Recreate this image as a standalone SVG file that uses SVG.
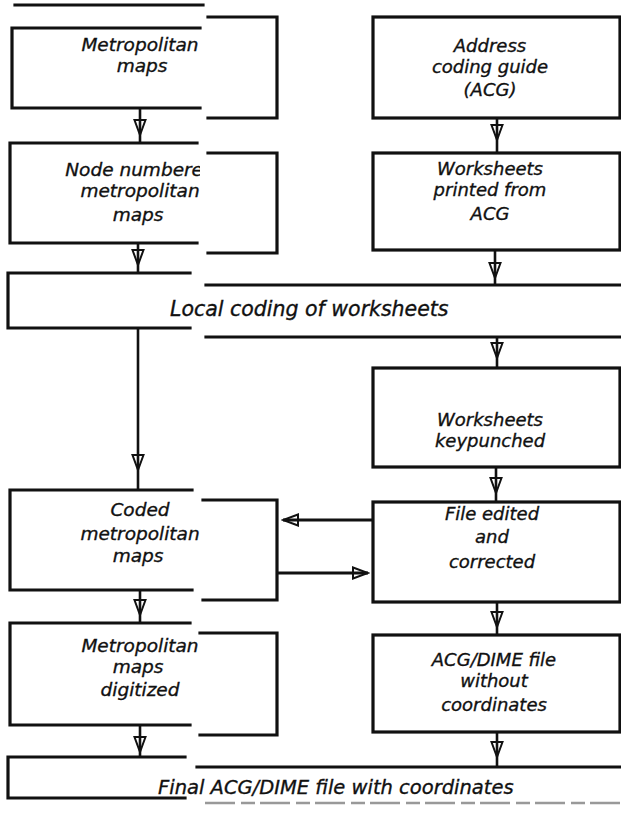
<svg xmlns="http://www.w3.org/2000/svg" width="621" height="816" viewBox="0 0 621 816">
  <style>
    .box { fill: none; stroke: #111; stroke-width: 3.2; stroke-linecap: square; }
    .faint { fill: none; stroke: #999; stroke-width: 2.5; stroke-dasharray: 30 6 14 5; }
    .lbl { font-family: "DejaVu Sans", "Liberation Sans", sans-serif; font-style: italic; font-size: 18px; fill: #111; stroke: #111; stroke-width: 0.35; text-anchor: middle; }
    .lft { font-size: 18.5px; }
    .band { font-family: "DejaVu Sans", "Liberation Sans", sans-serif; font-style: italic; font-size: 20.5px; fill: #111; stroke: #111; stroke-width: 0.35; }
    .flow { fill: none; stroke: #111; stroke-width: 2.6; marker-mid: url(#head); }
    .side { fill: none; stroke: #111; stroke-width: 3.2; marker-end: url(#head); }
  </style>
  <defs>
    <marker id="head" viewBox="-16 -7 18 14" refX="0" refY="0" markerWidth="18" markerHeight="14" markerUnits="userSpaceOnUse" orient="auto">
      <path d="M-15,-5.5 L0,0 L-15,5.5 Z" fill="none" stroke="#111" stroke-width="2" stroke-linejoin="miter"/>
    </marker>
    <!-- left column labels stop at the paper seam -->
    <clipPath id="strip">
      <rect x="0" y="0" width="200" height="816"/>
    </clipPath>
  </defs>

  <rect width="621" height="816" fill="#fff"/>

  <!-- stray edge at the top of the left strip -->
  <path class="box" d="M15,5 H203"/>

  <g id="node-metro-maps">
    <path class="box" d="M200,28 H12 V108 H200"/>
    <path class="box" d="M208,17 H277 V118 H208"/>
    <g clip-path="url(#strip)">
      <text class="lbl lft" x="140" y="51">Metropolitan</text>
      <text class="lbl lft" x="142" y="72">maps</text>
    </g>
  </g>

  <g id="node-acg">
    <rect class="box" x="373" y="17" width="247" height="101"/>
    <text class="lbl" x="490" y="52">Address</text>
    <text class="lbl" x="490" y="73">coding guide</text>
    <text class="lbl" x="490" y="96">(ACG)</text>
  </g>

  <g id="node-numbered-maps">
    <path class="box" d="M197,143 H10 V243 H197"/>
    <path class="box" d="M208,153 H277 V253 H208"/>
    <g clip-path="url(#strip)">
      <text class="lbl lft" x="140" y="176">Node numbered</text>
      <text class="lbl lft" x="140" y="197">metropolitan</text>
      <text class="lbl lft" x="138" y="221">maps</text>
    </g>
  </g>

  <g id="node-worksheets-printed">
    <rect class="box" x="373" y="153" width="247" height="97"/>
    <text class="lbl" x="490" y="175">Worksheets</text>
    <text class="lbl" x="490" y="196">printed from</text>
    <text class="lbl" x="490" y="220">ACG</text>
  </g>

  <g id="node-local-coding">
    <path class="box" d="M190,273 H8 V328 H190"/>
    <path class="box" d="M206,285 H621 M206,337 H621"/>
    <text class="band" x="170" y="316">Local coding of worksheets</text>
  </g>

  <g id="node-keypunched">
    <rect class="box" x="373" y="368" width="247" height="99"/>
    <text class="lbl" x="490" y="426">Worksheets</text>
    <text class="lbl" x="490" y="447">keypunched</text>
  </g>

  <g id="node-coded-maps">
    <path class="box" d="M192,490 H10 V590 H192"/>
    <path class="box" d="M203,500 H277 V600 H203"/>
    <g clip-path="url(#strip)">
      <text class="lbl lft" x="140" y="516">Coded</text>
      <text class="lbl lft" x="140" y="540">metropolitan</text>
      <text class="lbl lft" x="138" y="562">maps</text>
    </g>
  </g>

  <g id="node-file-edited">
    <rect class="box" x="373" y="502" width="247" height="100"/>
    <text class="lbl" x="492" y="520">File edited</text>
    <text class="lbl" x="492" y="543">and</text>
    <text class="lbl" x="492" y="568">corrected</text>
  </g>

  <g id="node-maps-digitized">
    <path class="box" d="M190,623 H10 V725 H190"/>
    <path class="box" d="M200,633 H277 V735 H200"/>
    <g clip-path="url(#strip)">
      <text class="lbl lft" x="140" y="652">Metropolitan</text>
      <text class="lbl lft" x="138" y="673">maps</text>
      <text class="lbl lft" x="140" y="696">digitized</text>
    </g>
  </g>

  <g id="node-dime-no-coords">
    <rect class="box" x="373" y="635" width="247" height="97"/>
    <text class="lbl" x="494" y="666">ACG/DIME file</text>
    <text class="lbl" x="494" y="687">without</text>
    <text class="lbl" x="494" y="711">coordinates</text>
  </g>

  <g id="node-final-dime">
    <path class="box" d="M185,757 H8 V798 H185"/>
    <path class="box" d="M197,767 H621"/>
    <path class="faint" d="M205,803 H621"/>
    <text class="band" x="158" y="794" style="font-size:19.5px">Final ACG/DIME file with coordinates</text>
  </g>

  <g id="connectors">
    <!-- left column -->
    <path class="flow" d="M140,108 L140,135 L140,143"/>
    <path class="flow" d="M138,243 L138,265 L138,273"/>
    <path class="flow" d="M138,328 L138,470 L138,490"/>
    <path class="flow" d="M140,590 L140,615 L140,623"/>
    <path class="flow" d="M140,725 L140,752 L140,757"/>
    <!-- right column -->
    <path class="flow" d="M497,118 L497,140 L497,153"/>
    <path class="flow" d="M495,250 L495,278 L495,285"/>
    <path class="flow" d="M497,337 L497,358 L497,368"/>
    <path class="flow" d="M496,467 L496,493 L496,502"/>
    <path class="flow" d="M497,602 L497,627 L497,635"/>
    <path class="flow" d="M497,732 L497,757 L497,767"/>
    <!-- exchange between edited file and coded maps -->
    <path class="side" d="M373,520 L283,520"/>
    <path class="side" d="M277,573 L368,573"/>
  </g>
</svg>
